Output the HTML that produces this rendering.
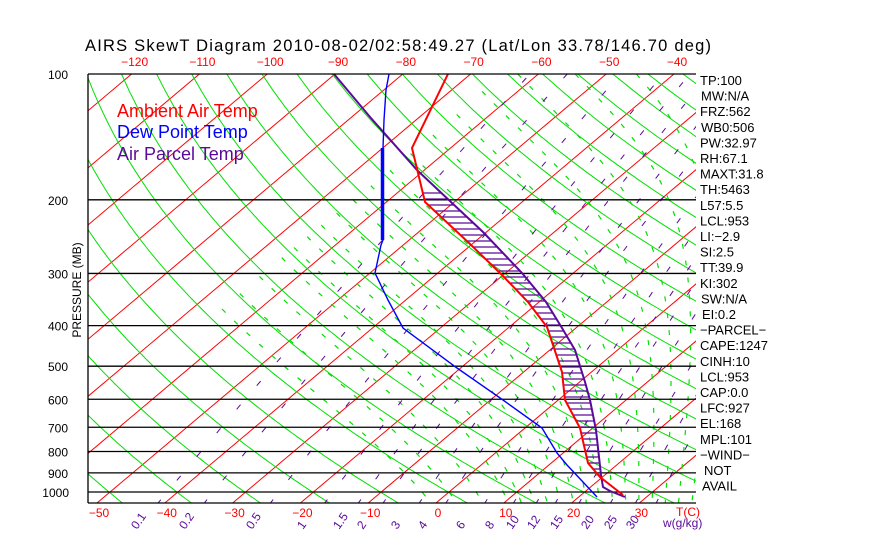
<!DOCTYPE html>
<html><head><meta charset="utf-8"><style>
html,body{margin:0;padding:0;background:#fff;width:870px;height:560px;overflow:hidden}
svg{display:block;font-family:"Liberation Sans",sans-serif}
</style></head><body>
<svg id="s" width="870" height="560" viewBox="0 0 870 560" xmlns="http://www.w3.org/2000/svg">
<defs><clipPath id="c"><rect x="88" y="74" width="608" height="429"/></clipPath></defs>
<g id="grid" clip-path="url(#c)"></g>
<g id="snd" clip-path="url(#c)"></g>
<g stroke="#000" stroke-width="1.3" fill="none">
<line x1="88" y1="74" x2="696" y2="74"/><line x1="88" y1="503" x2="696" y2="503"/><line x1="88" y1="74" x2="88" y2="503"/>
</g>
<text x="85" y="51" font-size="16.5" fill="#000" textLength="626">AIRS SkewT Diagram 2010-08-02/02:58:49.27 (Lat/Lon 33.78/146.70 deg)</text>
<g font-size="12" fill="#f00" text-anchor="middle" id="top"></g>
<g font-size="12" fill="#f00" text-anchor="middle" id="bot"></g>
<g font-size="12" fill="#000" text-anchor="end" id="lp"></g>
<text transform="translate(81,290) rotate(-90)" font-size="12" text-anchor="middle" fill="#000">PRESSURE (MB)</text>
<text x="117" y="117" font-size="18" fill="#f00">Ambient Air Temp</text>
<text x="117" y="138" font-size="18" fill="#00f">Dew Point Temp</text>
<text x="117" y="160" font-size="18" fill="#5a0a9a">Air Parcel Temp</text>
<g font-size="12" fill="#5a0a9a" id="wl"></g>
<text x="676" y="516" font-size="12" fill="#f00">T(C)</text>
<g font-size="13" fill="#000" id="rt"></g>
</svg>
<script>
var NS="http://www.w3.org/2000/svg";
function el(par,tag,a,txt){var e=document.createElementNS(NS,tag);for(var k in a)e.setAttribute(k,a[k]);if(txt!=null)e.textContent=txt;document.getElementById(par).appendChild(e);return e;}
function Y(p){return 74+418*Math.log10(p/100);}
function X(T,y){return 436+6.78*T+1.187*(503-y);}
function pl(par,pts,col,w,dash){var d=pts.map(function(q,i){return (i?"L":"M")+q[0].toFixed(1)+" "+q[1].toFixed(1)}).join("");var a={d:d,stroke:col,"stroke-width":w,fill:"none"};if(dash)a["stroke-dasharray"]=dash;el(par,"path",a);}
// isotherms
for(var T=-160;T<=50;T+=10){pl("grid",[[X(T,503),503],[X(T,74),74]],"#f00",1);}
// dry adiabats
for(var th=203;th<=563;th+=10){var pts=[];for(var p=100;p<=1070;p+=10){var t=th*Math.pow(p/1000,0.286)-273.15;var y=Y(p);pts.push([X(t,y),y]);}pl("grid",pts,"#00e000",1);}
// moist adiabats
function es(t){return 6.112*Math.exp(17.67*t/(t+243.5));}
function dTdp(TK,p){var rs=0.622*es(TK-273.15)/(p-es(TK-273.15));var Lv=2.5e6,Rd=287,cp=1005,eps=0.622;return (Rd*TK+Lv*rs)/(p*(cp+Lv*Lv*rs*eps/(Rd*TK*TK)));}
var mlist=[-4,0,4,8,10,12,14,16,18,20,22,24,26,28,30,32,34,36,38];
mlist.forEach(function(t0){var TK=t0+273.15,p=1000;var up=[];while(p>=100){var y=Y(p);if(TK-273.15<-66)break;up.push([X(TK-273.15,y),y]);var dp=-5;TK+=dTdp(TK,p)*dp;p+=dp;}
TK=t0+273.15;p=1000;var dn=[];while(p<=1070){TK+=dTdp(TK,p)*5;p+=5;var y=Y(p);dn.push([X(TK-273.15,y),y]);}
pl("grid",up.reverse().concat(dn),"#00e000",1.2,"5 12");});
// mixing ratio
var ws=[0.1,0.2,0.5,1,1.5,2,3,4,6,8,10,12,15,20,25,30];
ws.forEach(function(w){var pts=[];for(var p=1070;p>=100;p-=10){var e=w*p/(622+w);var L=Math.log(e/6.112);var t=243.5*L/(17.67-L);var y=Y(p);pts.push([X(t,y),y]);}pl("grid",pts,"#5a0a9a",1,"6 25");});
// horizontal pressure lines
for(var p=200;p<=1000;p+=100){var y=Y(p);el("grid","line",{x1:88,x2:696,y1:y,y2:y,stroke:"#000","stroke-width":1.3});}
// sounding
var red=[[448,74],[412,148],[425,202],[469,243],[502,275],[528,302],[547,327],[552,342],[562,372],[565,400],[580,428],[588,463],[600,477],[623,495]];
var pur=[[334,74],[370,117],[417,170],[452,203],[483,232],[522,273],[546,302],[562,328],[575,350],[585,382],[590,400],[596,430],[599,457],[601,475],[603,487],[610,491],[625,497]];
var blu=[[389,74],[386,90],[384,120],[383,148],[383,240],[381,245],[375,273],[388,300],[403,328],[457,368],[503,400],[542,428],[557,453],[567,465],[583,482],[597,497]];
function ix(poly,y){for(var i=0;i<poly.length-1;i++){var a=poly[i],b=poly[i+1];if(y>=a[1]&&y<=b[1]){return a[0]+(b[0]-a[0])*(y-a[1])/(b[1]-a[1]);}}return null;}
for(var y=193;y<=490;y+=6){var a=ix(red,y),b=ix(pur,y);if(a!=null&&b!=null&&b>a+1)el("snd","line",{x1:a,x2:b,y1:y,y2:y,stroke:"#5a0a9a","stroke-width":1.3});}
pl("snd",pur,"#5a0a9a",2);
pl("snd",red,"#f00",2);
pl("snd",blu,"#00f",1.4);
el("snd","line",{x1:382.5,x2:382.5,y1:148,y2:240,stroke:"#00f","stroke-width":3.5});
// labels
var tl=[-120,-110,-100,-90,-80,-70,-60,-50,-40];tl.forEach(function(t){el("top","text",{x:X(t,74)+3,y:66},String(t).replace("-","\u2212"));});
for(var t=-50;t<=30;t+=10){el("bot","text",{x:X(t,503)+2,y:517},String(t).replace("-","\u2212"));}
for(var p=100;p<=1000;p+=100){el("lp","text",{x:p==1000?69:68,y:Y(p)+5},String(p));}
var wx=[[0.1,140],[0.2,188],[0.5,255],[1,306],[1.5,342],[2,366],[3,400],[4,427],[6,465],[8,494],[10,515],[12,536],[15,559],[20,590],[25,613],[30,635]];
wx.forEach(function(q){el("wl","text",{transform:"translate("+(q[1]-3)+",530) rotate(-55)"},String(q[0]));});
el("wl","text",{x:663,y:527},"w(g/kg)");
var rt=["TP:100","MW:N/A","FRZ:562","WB0:506","PW:32.97","RH:67.1","MAXT:31.8","TH:5463","L57:5.5","LCL:953","LI:\u22122.9","SI:2.5","TT:39.9","KI:302","SW:N/A","EI:0.2","\u2212PARCEL\u2212","CAPE:1247","CINH:10","LCL:953","CAP:0.0","LFC:927","EL:168","MPL:101","\u2212WIND\u2212","NOT","AVAIL"];
var xo={"MW:N/A":1,"WB0:506":1,"SW:N/A":1,"EI:0.2":2,"NOT":4,"AVAIL":2};
rt.forEach(function(s,i){el("rt","text",{x:700+(xo[s]||0),y:85+i*15.6},s);});
</script>
</body></html>
